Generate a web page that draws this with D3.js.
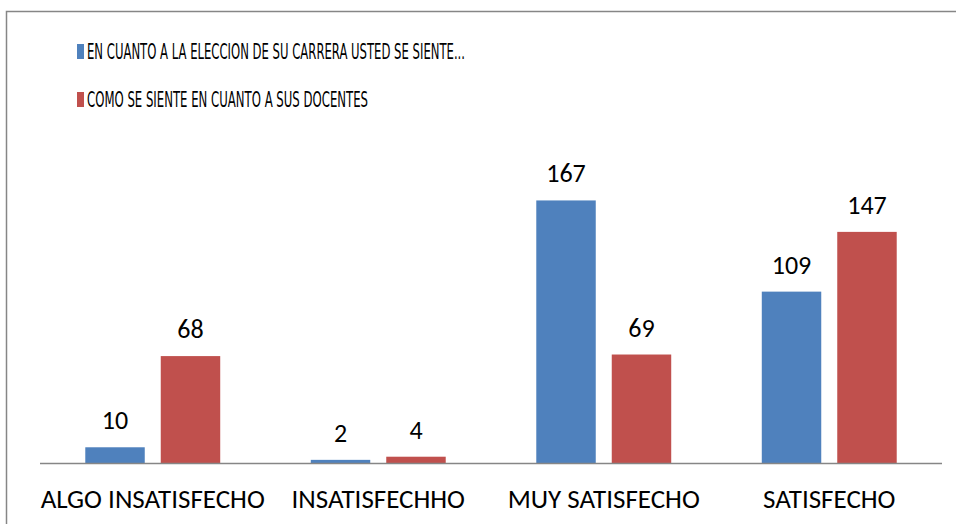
<!DOCTYPE html>
<html>
<head>
<meta charset="utf-8">
<script src="https://cdn.jsdelivr.net/npm/d3@7"></script>
<style>
  body { margin: 0; background: #fff; }
  text { font-family: Carlito, Lato, sans-serif; fill: #000; }
  text.legend { font-family: "Liberation Sans Narrow", "DejaVu Sans Condensed", Lato, sans-serif; }
</style>
</head>
<body>
<script>
// chart data
var categories = ["ALGO INSATISFECHO", "INSATISFECHHO", "MUY SATISFECHO", "SATISFECHO"];
var seriesNames = ["EN CUANTO A LA ELECCION DE SU CARRERA USTED SE  SIENTE...", "COMO SE SIENTE EN CUANTO A SUS DOCENTES"];
var eleccion = [10, 2, 167, 109];
var docentes = [68, 4, 69, 147];

var colors = ["#4F81BD", "#C0504D"];
var width = 956, height = 524;
var borderColor = '#868686';

var svg = d3.select("body")
    .append("svg")
        .attr("width", width)
        .attr("height", height);

// outer frame (only top and left edges are visible in the picture)
svg.append("path")
    .attr("d", "M6.5," + height + "V11.5H" + width)
    .style("fill", "none")
    .style("stroke", borderColor)
    .style("stroke-width", 1.5);

var x0 = d3.scaleBand()
    .domain(categories)
    .range([40, 942]);

var x1 = d3.scaleBand()
    .domain([0, 1])
    .range([0, x0.bandwidth()])
    .paddingInner(0.212)
    .paddingOuter(0.6);

var y = d3.scaleLinear()
    .domain([0, 180])
    .range([463, 180]);

var rows = categories.map(function(c, i){
    return {cat: c, values: [eleccion[i], docentes[i]]};
});

var groups = svg.selectAll("g.cat")
    .data(rows)
    .enter().append("g")
        .attr("class", "cat")
        .attr("transform", function(d){ return "translate(" + x0(d.cat) + ",0)"; });

groups.selectAll("rect")
    .data(function(d){ return d.values; })
    .enter().append("rect")
        .attr("x", function(d, i){ return x1(i); })
        .attr("y", function(d){ return y(d); })
        .attr("width", x1.bandwidth())
        .attr("height", function(d){ return y(0) - y(d); })
        .style("fill", function(d, i){ return colors[i]; });

groups.selectAll("text.val")
    .data(function(d){ return d.values; })
    .enter().append("text")
        .attr("class", "val")
        .text(function(d){ return d; })
        .attr("x", function(d, i){ return x1(i) + x1.bandwidth() / 2; })
        .attr("y", function(d){ return y(d) - 18; })
        .attr("text-anchor", "middle")
        .attr("font-size", "26px");

// baseline
svg.append("line")
    .attr("x1", x0.range()[0])
    .attr("x2", x0.range()[1])
    .attr("y1", y(0) + 0.5)
    .attr("y2", y(0) + 0.5)
    .style("stroke", borderColor)
    .style("stroke-width", 1.5);

// category labels
svg.selectAll("text.cat")
    .data(categories)
    .enter().append("text")
        .attr("class", "cat")
        .text(function(d){ return d; })
        .attr("x", function(d){ return x0(d) + x0.bandwidth() / 2; })
        .attr("y", 508)
        .attr("text-anchor", "middle")
        .attr("font-size", "27px");

// legend
var legendY = [59, 107];
var legendW = [378, 281];

seriesNames.forEach(function(name, i){
    svg.append("rect")
        .attr("x", 77)
        .attr("y", legendY[i] - 15)
        .attr("width", 7)
        .attr("height", 15)
        .style("fill", colors[i]);

    svg.append("text")
        .attr("class", "legend")
        .text(name)
        .attr("x", 87)
        .attr("y", legendY[i])
        .attr("font-size", "21px")
        .attr("textLength", legendW[i])
        .attr("lengthAdjust", "spacingAndGlyphs");
});
</script>
</body>
</html>
